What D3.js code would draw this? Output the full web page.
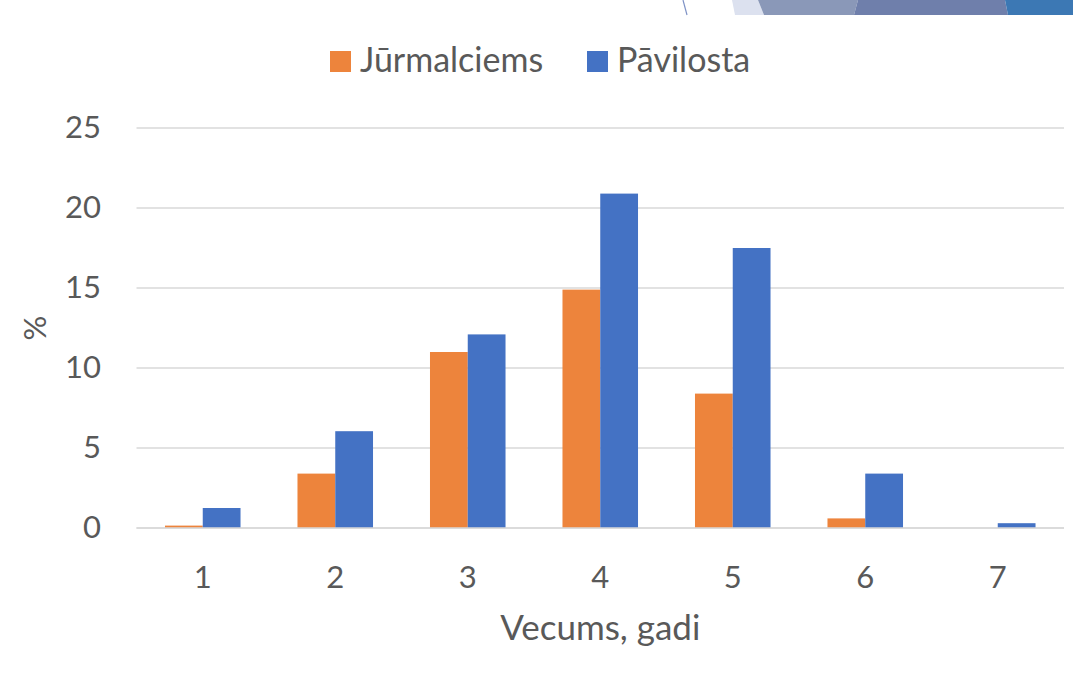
<!DOCTYPE html>
<html>
<head>
<meta charset="utf-8">
<script src="https://cdn.jsdelivr.net/npm/d3@7"></script>
<style>
  body { margin: 0; background: #fff; }
  svg { display: block; font-family: Lato, "Open Sans", sans-serif; }
</style>
</head>
<body>
<script>
const AGES = ["1", "2", "3", "4", "5", "6", "7"];
const SERIES = ["Jūrmalciems", "Pāvilosta"];
const JURMALCIEMS = [0.15, 3.4, 11.0, 14.9, 8.4, 0.6, 0];
const PAVILOSTA = [1.25, 6.05, 12.1, 20.9, 17.5, 3.4, 0.3];
const Y_TICKS = [0, 5, 10, 15, 20, 25];
const COLORS = ["#ed843c", "#4472c4"];

const width = 1073,
  height = 681,
  margin = { left: 136.5, right: 9, top: 128, bottom: 153 };

const rows = AGES.map((age, i) => ({
  age: age,
  values: [JURMALCIEMS[i], PAVILOSTA[i]]
}));

const svg = d3
  .select("body")
  .append("svg")
  .attr("width", width)
  .attr("height", height);

// slide decoration in the top-right corner
const deco = svg.append("g");
deco.append("line")
  .attr("x1", 683).attr("y1", 0).attr("x2", 687).attr("y2", 15)
  .attr("stroke", "#7f93c6").attr("stroke-width", 1.2);
[
  [[732, 0], [758, 0], [764, 15], [735, 15], "#dce1ef"],
  [[758, 0], [858, 0], [854, 15], [764, 15], "#8a98b8"],
  [[858, 0], [1005, 0], [1008, 15], [854, 15], "#6f7fab"],
  [[1005, 0], [1073, 0], [1073, 15], [1008, 15], "#3c78b4"]
].forEach(p => {
  deco.append("polygon")
    .attr("points", p.slice(0, 4).map(q => q.join(",")).join(" "))
    .attr("fill", p[4]);
});

const xScale = d3
  .scaleBand()
  .domain(AGES)
  .range([margin.left, width - margin.right]);

const xInner = d3
  .scaleBand()
  .domain(SERIES)
  .range([0, xScale.bandwidth()])
  .paddingInner(0)
  .paddingOuter(0.754);

const yScale = d3
  .scaleLinear()
  .domain([0, 25])
  .range([height - margin.bottom, margin.top]);

// gridlines
svg
  .append("g")
  .selectAll("line")
  .data(Y_TICKS)
  .enter()
  .append("line")
  .attr("x1", margin.left)
  .attr("x2", width - margin.right)
  .attr("y1", d => yScale(d))
  .attr("y2", d => yScale(d))
  .attr("stroke", "#d9d9d9")
  .attr("stroke-width", 1.5);

const yAxis = d3
  .axisLeft(yScale)
  .tickValues(Y_TICKS)
  .tickSize(0)
  .tickPadding(0);

svg
  .append("g")
  .attr("transform", `translate(101, 0)`)
  .call(yAxis)
  .call(g => g.select(".domain").remove())
  .selectAll("text")
  .attr("font-size", 31)
  .attr("font-family", "Lato, sans-serif")
  .attr("fill", "#595959");

// bars
svg
  .append("g")
  .selectAll("g")
  .data(rows)
  .enter()
  .append("g")
  .attr("transform", d => `translate(${xScale(d.age)}, 0)`)
  .selectAll("rect")
  .data(d => d.values.map((v, j) => ({ series: SERIES[j], value: v, j: j })))
  .enter()
  .append("rect")
  .attr("x", d => xInner(d.series))
  .attr("y", d => yScale(d.value))
  .attr("width", xInner.bandwidth())
  .attr("height", d => yScale(0) - yScale(d.value))
  .attr("fill", d => COLORS[d.j]);

// baseline
svg
  .append("line")
  .attr("x1", margin.left)
  .attr("x2", width - margin.right)
  .attr("y1", yScale(0))
  .attr("y2", yScale(0))
  .attr("stroke", "#d9d9d9")
  .attr("stroke-width", 1.5);

const xAxis = d3.axisBottom(xScale).tickSize(0).tickPadding(0);

svg
  .append("g")
  .attr("transform", `translate(0, ${yScale(0) + 60})`)
  .call(xAxis)
  .call(g => g.select(".domain").remove())
  .selectAll("text")
  .attr("font-size", 31)
  .attr("font-family", "Lato, sans-serif")
  .attr("fill", "#595959")
  .attr("dy", 0);

// axis titles
svg
  .append("text")
  .attr("x", (margin.left + width - margin.right) / 2)
  .attr("y", 640)
  .attr("text-anchor", "middle")
  .attr("font-size", 35)
  .attr("fill", "#595959")
  .text("Vecums, gadi");

svg
  .append("text")
  .attr("transform", "translate(46, 328) rotate(-90)")
  .attr("text-anchor", "middle")
  .attr("font-size", 31)
  .attr("fill", "#595959")
  .text("%");

// legend
const legendX = [330, 587];
const legend = svg
  .append("g")
  .selectAll("g")
  .data(SERIES)
  .enter()
  .append("g")
  .attr("transform", (d, i) => `translate(${legendX[i]}, 51)`);

legend
  .append("rect")
  .attr("width", 21)
  .attr("height", 21)
  .attr("fill", (d, i) => COLORS[i]);

legend
  .append("text")
  .attr("x", 30)
  .attr("y", 21)
  .attr("font-size", 34)
  .attr("fill", "#595959")
  .text(d => d);
</script>
</body>
</html>
